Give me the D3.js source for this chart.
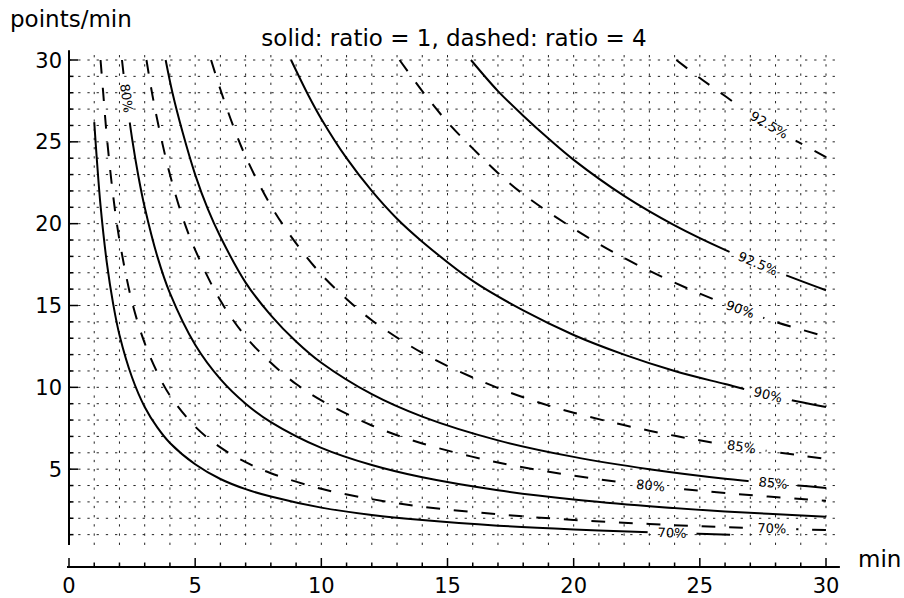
<!DOCTYPE html>
<html><head><meta charset="utf-8">
<script src="https://cdn.jsdelivr.net/npm/d3@7"></script>
<style>
body{margin:0;background:#fff}
svg{display:block}
text{font-family:"DejaVu Sans",sans-serif;fill:#000}
</style>
</head><body>
<svg id="chart" width="904" height="598"></svg>
<script>
// ---------- data ----------
const titleText = "solid: ratio = 1, dashed: ratio = 4";
const xLabelText = "min";
const yLabelText = "points/min";
const xTickLabels = [0, 5, 10, 15, 20, 25, 30];
const yTickLabels = [5, 10, 15, 20, 25, 30];
const levelNames = ["70%", "80%", "85%", "90%", "92.5%"];

// ratio = 1 (solid)
const solid70X = [1.0, 1.1, 1.25, 1.5, 1.75, 2, 2.5, 3, 3.5, 4, 5, 6, 7, 8, 10, 12, 14, 17, 20, 23, 26.2];
const solid70Y = [26.2, 24.0, 21.1, 17.6, 15.1, 13.2, 10.6, 8.8, 7.55, 6.6, 5.3, 4.4, 3.78, 3.33, 2.65, 2.2, 1.89, 1.55, 1.32, 1.15, 1.0];
const solid80X = [2.1, 2.25, 2.5, 2.75, 3, 3.5, 4, 5, 6, 7, 8, 10, 12, 14, 17, 20, 23, 26, 30];
const solid80Y = [30, 28, 25.2, 22.9, 21, 18, 15.75, 12.6, 10.5, 9, 7.88, 6.3, 5.25, 4.5, 3.71, 3.15, 2.74, 2.42, 2.1];
const solid85X = [3.83, 4.1, 4.5, 5, 5.5, 6, 7, 8, 9, 10, 12, 14, 17, 20, 23, 26, 30];
const solid85Y = [30, 28, 25.6, 23, 20.9, 19.2, 16.4, 14.4, 12.8, 11.5, 9.58, 8.21, 6.76, 5.75, 5.0, 4.42, 3.85];
const solid90X = [8.8, 9.5, 10, 11, 12, 13, 14, 16, 18, 20, 22, 24, 26, 28, 30];
const solid90Y = [30, 27.8, 26.4, 24, 22, 20.3, 18.9, 16.5, 14.7, 13.2, 12, 11, 10.2, 9.43, 8.8];
const solid925X = [15.93, 17, 18, 19, 20, 22, 24, 26, 28, 30];
const solid925Y = [30, 28.1, 26.6, 25.2, 23.9, 21.7, 19.9, 18.4, 17.1, 15.93];

// ratio = 4 (dashed)
const dashed70X = [1.25, 1.35, 1.5, 1.75, 2, 2.5, 3, 3.5, 4, 5, 6, 7, 8, 10, 12, 14, 17, 20, 23, 26, 30];
const dashed70Y = [30, 28.1, 25.3, 21.7, 19, 15.2, 12.7, 10.9, 9.5, 7.6, 6.33, 5.43, 4.75, 3.8, 3.17, 2.71, 2.24, 1.9, 1.65, 1.46, 1.28];
const dashed80X = [3.07, 3.3, 3.6, 4, 4.5, 5, 6, 7, 8, 9, 10, 12, 14, 17, 20, 23, 26, 30];
const dashed80Y = [30, 27.9, 25.6, 23, 20.4, 18.4, 15.3, 13.1, 11.5, 10.2, 9.2, 7.67, 6.57, 5.41, 4.6, 4.0, 3.54, 3.07];
const dashed85X = [5.63, 6, 6.5, 7, 8, 9, 10, 11, 12, 14, 16, 18, 20, 23, 26, 30];
const dashed85Y = [30, 28.2, 26, 24.1, 21.1, 18.8, 16.9, 15.4, 14.1, 12.1, 10.6, 9.39, 8.45, 7.35, 6.5, 5.63];
const dashed90X = [13.1, 14, 15, 16, 17, 18, 20, 22, 24, 26, 28, 30];
const dashed90Y = [30, 28.1, 26.2, 24.6, 23.1, 21.8, 19.7, 17.9, 16.4, 15.1, 14.0, 13.1];
const dashed925X = [24.07, 25, 26, 27, 28, 29, 30];
const dashed925Y = [30, 28.9, 27.8, 26.7, 25.8, 24.9, 24.07];

// ---------- layout ----------
const svg = d3.select("#chart");
const x = d3.scaleLinear().domain([0, 30]).range([69, 826]);
const y = d3.scaleLinear().domain([0, 30]).range([551, 60]);
const xAxisY = 567;
const yMinShown = 0.37, yMaxShown = 30.6, xMaxShown = 30.45;

const curves = [
  {name: levelNames[0], dashed: false, xs: solid70X, ys: solid70Y},
  {name: levelNames[1], dashed: false, xs: solid80X, ys: solid80Y},
  {name: levelNames[2], dashed: false, xs: solid85X, ys: solid85Y},
  {name: levelNames[3], dashed: false, xs: solid90X, ys: solid90Y},
  {name: levelNames[4], dashed: false, xs: solid925X, ys: solid925Y},
  {name: levelNames[0], dashed: true, xs: dashed70X, ys: dashed70Y},
  {name: levelNames[1], dashed: true, xs: dashed80X, ys: dashed80Y},
  {name: levelNames[2], dashed: true, xs: dashed85X, ys: dashed85Y},
  {name: levelNames[3], dashed: true, xs: dashed90X, ys: dashed90Y},
  {name: levelNames[4], dashed: true, xs: dashed925X, ys: dashed925Y}
];
// where along each curve (data x) the inline label sits
const labelAt = [23.9, 2.28, 27.9, 27.7, 27.3, 27.85, 23.05, 26.65, 26.6, 27.75];

// grid
const grid = svg.append("g").attr("stroke", "#222").attr("stroke-width", 1)
  .attr("stroke-dasharray", "2.3,6.9");
d3.range(1, 31).forEach(v => {
  grid.append("line").attr("x1", x(0)).attr("x2", x(xMaxShown))
    .attr("y1", y(v)).attr("y2", y(v));
  grid.append("line").attr("x1", x(v)).attr("x2", x(v))
    .attr("y1", y(yMinShown)).attr("y2", y(yMaxShown));
});

// axes
const ax = svg.append("g").attr("stroke", "#000");
ax.append("line").attr("x1", x(0)).attr("x2", x(0))
  .attr("y1", y(yMinShown)).attr("y2", y(yMaxShown)).attr("stroke-width", 2);
ax.append("line").attr("x1", x(0) - 2).attr("x2", x(30.55))
  .attr("y1", xAxisY).attr("y2", xAxisY).attr("stroke-width", 2);
d3.range(1, 31).forEach(v => {
  const len = v % 5 === 0 ? 9 : 4.5;
  ax.append("line").attr("x1", x(0)).attr("x2", x(0) + len)
    .attr("y1", y(v)).attr("y2", y(v)).attr("stroke-width", 1.5);
});
d3.range(0, 31).forEach(v => {
  const len = v % 5 === 0 ? 9 : 4.5;
  ax.append("line").attr("x1", x(v)).attr("x2", x(v))
    .attr("y1", xAxisY).attr("y2", xAxisY - len).attr("stroke-width", 1.5);
});
svg.append("g").selectAll("text").data(xTickLabels).join("text")
  .attr("x", d => x(d)).attr("y", 593).attr("text-anchor", "middle")
  .attr("font-size", 21).text(d => d);
svg.append("g").selectAll("text").data(yTickLabels).join("text")
  .attr("x", 62).attr("y", d => y(d) + 7.6).attr("text-anchor", "end")
  .attr("font-size", 21).text(d => d);

svg.append("text").attr("x", 454).attr("y", 46).attr("text-anchor", "middle")
  .attr("font-size", 23).text(titleText);
svg.append("text").attr("x", 10).attr("y", 27).attr("font-size", 23).text(yLabelText);
svg.append("text").attr("x", 858).attr("y", 567).attr("font-size", 23).text(xLabelText);

// curves with inline labels
const defs = svg.append("defs");
const lineGen = d3.line().x(d => x(d[0])).y(d => y(d[1])).curve(d3.curveCatmullRom.alpha(0.5));

function interp(xs, ys, xv) {
  for (let i = 0; i < xs.length - 1; i++) {
    if (xv >= xs[i] && xv <= xs[i + 1]) {
      const t = (xv - xs[i]) / (xs[i + 1] - xs[i]);
      return {yv: ys[i] + t * (ys[i + 1] - ys[i]), i};
    }
  }
  return {yv: ys[ys.length - 1], i: xs.length - 2};
}

curves.forEach((c, k) => {
  const pts = c.xs.map((xv, i) => [xv, c.ys[i]]);
  const lx = labelAt[k];
  const r = interp(c.xs, c.ys, lx);
  const cx = x(lx), cy = y(r.yv);
  const dxp = x(c.xs[r.i + 1]) - x(c.xs[r.i]);
  const dyp = y(c.ys[r.i + 1]) - y(c.ys[r.i]);
  const ang = Math.atan(dyp / dxp) * 180 / Math.PI;

  const lbl = svg.append("text").attr("font-size", 13)
    .attr("text-anchor", "middle").attr("dominant-baseline", "central")
    .attr("transform", `translate(${cx},${cy}) rotate(${ang})`).text(c.name);
  const w = lbl.node().getComputedTextLength() + 20;

  const m = defs.append("mask").attr("id", "m" + k).attr("maskUnits", "userSpaceOnUse")
    .attr("x", 0).attr("y", 0).attr("width", 904).attr("height", 598);
  m.append("rect").attr("width", 904).attr("height", 598).attr("fill", "#fff");
  m.append("rect").attr("x", -w / 2).attr("y", -6).attr("width", w).attr("height", 12)
    .attr("fill", "#000").attr("transform", `translate(${cx},${cy}) rotate(${ang})`);

  svg.append("path").datum(pts).attr("d", lineGen)
    .attr("fill", "none").attr("stroke", "#000").attr("stroke-width", 2)
    .attr("stroke-dasharray", c.dashed ? "13.8,13.8" : null)
    .attr("mask", `url(#m${k})`);
});
</script>
</body></html>
